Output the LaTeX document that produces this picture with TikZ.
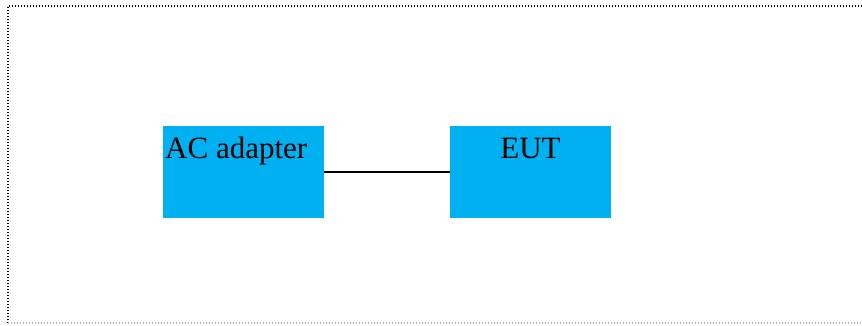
\documentclass[tikz,border=0pt]{standalone}
\usepackage{fontspec}
\setmainfont{Liberation Serif}
\definecolor{boxblue}{HTML}{00B0F0}
\begin{document}
\begin{tikzpicture}[x=1pt,y=-1pt,
  blockbox/.style={fill=boxblue,draw=none,minimum width=161pt,minimum height=92pt,inner sep=0pt,anchor=north west},
  lbl/.style={font=\fontsize{31}{37}\selectfont,inner sep=0pt},
  borderline/.style={line width=1.3pt,dash pattern=on 1.3pt off 1.7pt}]
\useasboundingbox (0,0) rectangle (862,325);
\draw[borderline,black] (8,323) -- (8,6) -- (862,6);
\draw[borderline,gray!60] (8,323) -- (862,323);
\node[blockbox] (ac) at (163,126) {};
\node[blockbox] (eut) at (450,126) {};
\node[lbl,anchor=base west] (actext) at (165,158) {AC adapter};
\node[lbl,anchor=base] (euttext) at (530.5,158) {EUT};
\draw[line width=1.5pt] (ac.east) -- (eut.west);
\end{tikzpicture}
\end{document}
